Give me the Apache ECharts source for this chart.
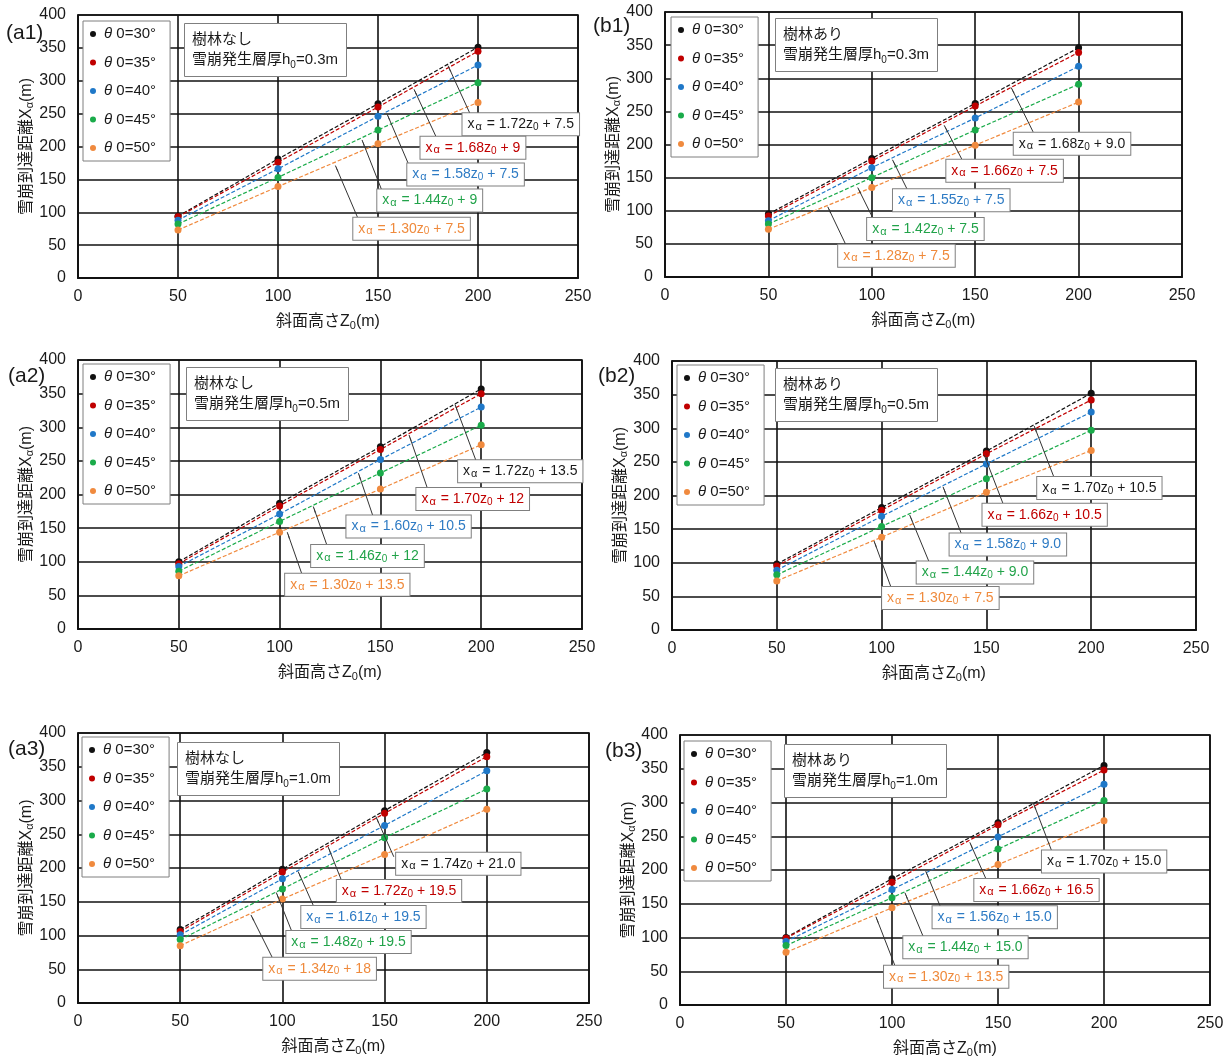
<!DOCTYPE html>
<html><head><meta charset="utf-8">
<script src="https://cdn.jsdelivr.net/npm/echarts@6/dist/echarts.min.js"></script>
<style>html,body{margin:0;padding:0;background:#fff}#c{width:1229px;height:1061px}</style>
</head><body><div id="c"></div>
<script>
// ---------- data ----------
const zValues = [50, 100, 150, 200];
const angleNames = ['θ0=30°', 'θ0=35°', 'θ0=40°', 'θ0=45°', 'θ0=50°'];
const xTicks = [0, 50, 100, 150, 200, 250];
const yTicks = [0, 50, 100, 150, 200, 250, 300, 350, 400];
const panelTags = ['(a1)', '(b1)', '(a2)', '(b2)', '(a3)', '(b3)'];
const forestText = ['樹林なし', '樹林あり', '樹林なし', '樹林あり', '樹林なし', '樹林あり'];
const layerThickness = ['0.3', '0.3', '0.5', '0.5', '1.0', '1.0'];

const a1Values = [[94,181,265,351],[93,176,260,345],[88,166,246,324],[82,153,225,297],[73,139,204,267]];
const b1Values = [[95,179,262,346],[92,175,258,339],[85,165,240,318],[80,150,222,291],[72,135,199,264]];
const a2Values = [[100,187,271,357],[97,183,267,350],[93,171,252,330],[86,160,232,303],[79,144,208,274]];
const b2Values = [[98,182,266,352],[95,178,262,342],[89,169,247,324],[82,154,225,297],[73,138,205,267]];
const a3Values = [[109,198,285,371],[106,194,281,365],[101,184,263,344],[94,169,245,317],[85,154,220,287]];
const b3Values = [[100,187,270,355],[99,182,267,348],[94,171,249,327],[88,159,231,303],[78,144,208,273]];

const a1Eq = [['1.72','7.5'],['1.68','9'],['1.58','7.5'],['1.44','9'],['1.30','7.5']];
const b1Eq = [['1.68','9.0'],['1.66','7.5'],['1.55','7.5'],['1.42','7.5'],['1.28','7.5']];
const a2Eq = [['1.72','13.5'],['1.70','12'],['1.60','10.5'],['1.46','12'],['1.30','13.5']];
const b2Eq = [['1.70','10.5'],['1.66','10.5'],['1.58','9.0'],['1.44','9.0'],['1.30','7.5']];
const a3Eq = [['1.74','21.0'],['1.72','19.5'],['1.61','19.5'],['1.48','19.5'],['1.34','18']];
const b3Eq = [['1.70','15.0'],['1.66','16.5'],['1.56','15.0'],['1.44','15.0'],['1.30','13.5']];

// ---------- layout (pixels / anchor positions in axis units) ----------
const panelValues = [a1Values, b1Values, a2Values, b2Values, a3Values, b3Values];
const panelEq = [a1Eq, b1Eq, a2Eq, b2Eq, a3Eq, b3Eq];
const gridBoxes = [
  [78, 15, 500, 263], [665, 12, 517, 265],
  [78, 360, 504, 269], [672, 361, 524, 269],
  [78, 733, 511, 270], [680, 735, 530, 270]
];
const legendPos = [[83,21],[671,17],[83,364],[677,365],[82,737],[684,741]];
const infoPos = [[184,23],[775,18],[186,367],[775,368],[177,742],[784,744]];
const tagPos = [[6,35],[593,28],[8,378],[598,378],[8,751],[605,753]];
// [boxLeftX, boxCenterY, tailX, tailY, headX, headY]
const anchors = [
  [[192,234,196,250,185,323],[171,198,179,215,168,287],[164.4,157.5,165,175,154.6,249],[149.4,118,151.7,135,142,210],[137.4,75,139.8,92,128.7,171]],
  [[168.4,201,178,219,167.4,286],[135.8,160.5,144,175,135,229],[110,116,117,133,110,177],[97.5,72.5,100.4,89.6,93.2,135],[83.5,32,87.4,49,78.7,106]],
  [[188.3,234.4,197.4,250.5,187,334],[167.6,193.3,173.3,209.4,164.2,288.6],[132.9,152.5,146.2,168.8,139.1,231.7],[115.4,108.7,123.4,125.2,116.7,182.2],[102.5,65.8,111,82.2,103.8,144]],
  [[174,211,182,229,172.8,303.3],[147.9,171.3,158,187.4,149,260],[132.2,127.1,138,143.7,129.3,213],[116.5,85.5,122.6,101.6,113.4,171],[100,47.6,104.4,64.4,96.4,132.3]],
  [[155.4,206.4,154.5,216.6,145.7,276.4],[126.4,165.9,128.8,182.4,122.3,231.9],[109,127.3,115.2,143.9,107.7,194.8],[101.7,90.2,104.5,106.8,97,163.7],[90.4,50.9,95,67.7,84.6,130.5]],
  [[170.5,212.5,175.2,229.3,166.7,299],[138.6,170.5,144.3,187,136.7,241],[118.9,129.9,122.7,146.6,115.9,198.3],[105.1,85.6,114.6,102.3,106.1,166.3],[96,42,101.3,59,92.4,130.9]]
];

// ---------- styles ----------
const FONT = "'Liberation Sans', Arial, 'Noto Sans CJK JP', sans-serif";
const pointColors = ['#111111', '#c00000', '#1f78c8', '#1aab4a', '#f08a3e'];
const textColors = ['#1a1a1a', '#c00000', '#2e7bc4', '#22a34a', '#ef8a3c'];
const ink = '#1a1a1a';

const option = {
  animation: false,
  backgroundColor: '#fff',
  grid: [], xAxis: [], yAxis: [], legend: [], title: [], series: [],
  graphic: []
};

const lineStyleAxis = { color: '#111', width: 1.6 };

for (let p = 0; p < 6; p++) {
  const g = gridBoxes[p];
  option.grid.push({ left: g[0], top: g[1], width: g[2], height: g[3], show: true, borderColor: '#111', borderWidth: 1.6, backgroundColor: '#fff' });
  option.xAxis.push({
    type: 'value', gridIndex: p, min: xTicks[0], max: xTicks[xTicks.length - 1], interval: 50,
    axisLine: { show: true, lineStyle: { color: '#111', width: 2 } },
    axisTick: { show: false },
    splitLine: { show: true, lineStyle: lineStyleAxis },
    axisLabel: { fontSize: 16, color: ink, fontFamily: FONT, margin: 11 },
    name: '斜面高さZ{s|0}(m)', nameLocation: 'middle', nameGap: 35,
    nameTextStyle: { fontSize: 16, color: ink, fontFamily: FONT, lineHeight: 18,
      rich: { s: { fontSize: 11, color: ink, fontFamily: FONT, verticalAlign: 'bottom', lineHeight: 8 } } }
  });
  option.yAxis.push({
    type: 'value', gridIndex: p, min: yTicks[0], max: yTicks[yTicks.length - 1], interval: 50,
    axisLine: { show: true, lineStyle: lineStyleAxis },
    axisTick: { show: false },
    splitLine: { show: true, lineStyle: lineStyleAxis },
    axisLabel: { fontSize: 16, color: ink, fontFamily: FONT, margin: 12 },
    name: '雪崩到達距離X{a|α}(m)', nameLocation: 'middle', nameGap: 40, nameRotate: 90,
    nameTextStyle: { fontSize: 16, color: ink, fontFamily: FONT, lineHeight: 18,
      rich: { a: { fontSize: 11, color: ink, fontFamily: FONT, verticalAlign: 'bottom', lineHeight: 8 } } }
  });
  option.legend.push({
    left: legendPos[p][0], top: legendPos[p][1], orient: 'vertical', data: angleNames,
    icon: 'circle', itemWidth: 12, itemHeight: 6, itemGap: 10.5,
    padding: [4, 14, 4, 7], backgroundColor: '#fff', borderColor: '#7f7f7f', borderWidth: 1,
    selectedMode: false,
    formatter: n => '{i|θ} ' + n.slice(1),
    textStyle: { fontSize: 15, color: ink, fontFamily: FONT, lineHeight: 18,
      rich: { i: { fontSize: 15, fontStyle: 'italic', color: ink, fontFamily: FONT, lineHeight: 18 } } }
  });
  option.title.push({
    left: infoPos[p][0], top: infoPos[p][1],
    text: forestText[p] + '\n雪崩発生層厚h{s|0}=' + layerThickness[p] + 'm',
    padding: [7, 9, 7, 8], backgroundColor: '#fff', borderColor: '#7f7f7f', borderWidth: 1,
    textStyle: { fontSize: 15, fontWeight: 'normal', color: ink, fontFamily: FONT, lineHeight: 20,
      rich: { s: { fontSize: 10, color: ink, fontFamily: FONT, verticalAlign: 'bottom', lineHeight: 10 } } }
  });
  option.graphic.push({
    type: 'text', left: tagPos[p][0], top: tagPos[p][1] - 12,
    style: { text: panelTags[p], font: "21px " + FONT, fill: ink }
  });

  const vals = panelValues[p];
  for (let k = 0; k < 5; k++) {
    option.series.push({
      type: 'line', name: angleNames[k], xAxisIndex: p, yAxisIndex: p,
      data: zValues.map((z, i) => [z, vals[k][i]]),
      symbol: 'circle', symbolSize: 7, showSymbol: true, silent: true, z: 3,
      itemStyle: { color: pointColors[k] },
      lineStyle: { color: pointColors[k], width: 1.2, type: [4, 2] }
    });
  }

  const eq = panelEq[p];
  const an = anchors[p];
  option.series.push({
    type: 'scatter', xAxisIndex: p, yAxisIndex: p, silent: true, zlevel: 1, z: 10,
    symbolSize: 1, itemStyle: { color: '#ffffff', opacity: 1 },
    data: an.map((a, k) => ({
      value: [a[0], a[1]],
      label: {
        show: true, position: 'right', distance: 0,
        formatter: '{t|x}{a|α}{t| = ' + eq[k][0] + 'z}{s|0}{t| + ' + eq[k][1] + '}',
        backgroundColor: '#ffffff', borderColor: '#7f7f7f', borderWidth: 1, padding: [3, 5, 3, 5],
        rich: {
          t: { fontSize: 14, color: textColors[k], fontFamily: FONT, lineHeight: 16 },
          a: { fontSize: 11, color: textColors[k], fontFamily: FONT, verticalAlign: 'bottom', lineHeight: 8, padding: [0, 1, 0, 1] },
          s: { fontSize: 10, color: textColors[k], fontFamily: FONT, verticalAlign: 'bottom', lineHeight: 8 }
        }
      }
    })),
    markLine: {
      silent: true, symbol: ['none', 'arrow'], symbolSize: [1, 7],
      label: { show: false },
      lineStyle: { type: 'solid', color: '#333', width: 1 },
      emphasis: { disabled: true },
      data: an.map(a => [{ coord: [a[2], a[3]] }, { coord: [a[4], a[5]] }])
    }
  });
}

const chart = echarts.init(document.getElementById('c'), null, { renderer: 'canvas' });
chart.setOption(option);
</script>
</body></html>
